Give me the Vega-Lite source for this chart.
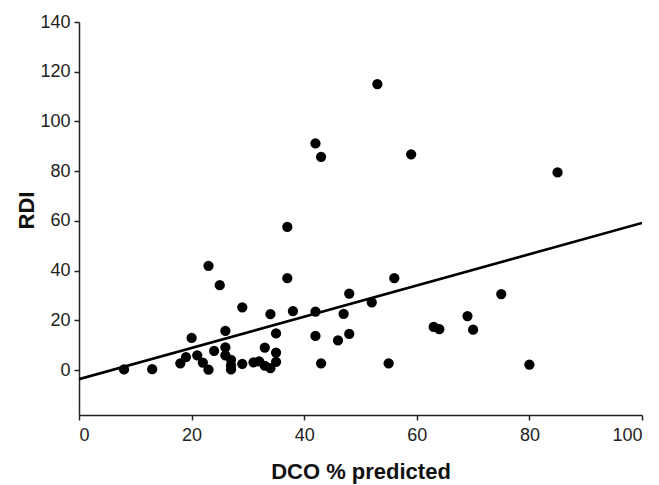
{
  "$schema": "https://vega.github.io/schema/vega-lite/v6.json",
  "width": 563,
  "height": 393,
  "autosize": "none",
  "padding": {"left": 79, "top": 22, "right": 17, "bottom": 70},
  "background": "white",
  "config": {
    "view": {"stroke": null},
    "font": "Liberation Sans",
    "axis": {
      "grid": false,
      "domainColor": "#222222",
      "domainWidth": 1.5,
      "tickColor": "#222222",
      "tickWidth": 1.5,
      "tickSize": 5,
      "labelFont": "Liberation Sans",
      "labelFontSize": 18,
      "labelColor": "#222222",
      "titleFont": "Liberation Sans",
      "titleFontSize": 22,
      "titleFontWeight": "bold",
      "titleColor": "#111111"
    }
  },
  "datasets": {
    "pts": [
      {"dco": 8, "rdi": 0.3}, {"dco": 13, "rdi": 0.4}, {"dco": 18, "rdi": 2.8}, {"dco": 19, "rdi": 5.3},
      {"dco": 20, "rdi": 13}, {"dco": 21, "rdi": 6}, {"dco": 22, "rdi": 3.1}, {"dco": 23, "rdi": 42},
      {"dco": 23, "rdi": 0.2}, {"dco": 24, "rdi": 7.8}, {"dco": 25, "rdi": 34.2}, {"dco": 26, "rdi": 15.8},
      {"dco": 26, "rdi": 9.2}, {"dco": 26, "rdi": 6}, {"dco": 27, "rdi": 4.2}, {"dco": 27, "rdi": 2},
      {"dco": 27, "rdi": 0.3}, {"dco": 29, "rdi": 25.3}, {"dco": 29, "rdi": 2.6}, {"dco": 31, "rdi": 3.2},
      {"dco": 32, "rdi": 3.6}, {"dco": 33, "rdi": 9.1}, {"dco": 33, "rdi": 1.8}, {"dco": 34, "rdi": 0.8},
      {"dco": 34, "rdi": 22.6}, {"dco": 35, "rdi": 14.8}, {"dco": 35, "rdi": 7.1}, {"dco": 35, "rdi": 3.4},
      {"dco": 37, "rdi": 57.6}, {"dco": 37, "rdi": 37}, {"dco": 38, "rdi": 23.8}, {"dco": 42, "rdi": 91.2},
      {"dco": 43, "rdi": 85.8}, {"dco": 42, "rdi": 23.6}, {"dco": 42, "rdi": 13.8}, {"dco": 43, "rdi": 2.8},
      {"dco": 46, "rdi": 12}, {"dco": 47, "rdi": 22.7}, {"dco": 48, "rdi": 30.8}, {"dco": 48, "rdi": 14.6},
      {"dco": 52, "rdi": 27.3}, {"dco": 53, "rdi": 115}, {"dco": 55, "rdi": 2.8}, {"dco": 56, "rdi": 37},
      {"dco": 59, "rdi": 86.8}, {"dco": 63, "rdi": 17.4}, {"dco": 64, "rdi": 16.5}, {"dco": 69, "rdi": 21.8},
      {"dco": 70, "rdi": 16.3}, {"dco": 75, "rdi": 30.6}, {"dco": 80, "rdi": 2.3}, {"dco": 85, "rdi": 79.5}
    ],
    "fit": [
      {"dco": 0, "rdi": -3.6},
      {"dco": 100, "rdi": 59.2}
    ]
  },
  "layer": [
    {
      "data": {"name": "pts"},
      "mark": {"type": "circle", "size": 105, "color": "#000000", "opacity": 1},
      "encoding": {
        "x": {
          "field": "dco", "type": "quantitative",
          "scale": {"domain": [0, 100], "nice": false, "zero": false},
          "axis": {"values": [0, 20, 40, 60, 80, 100], "title": "DCO % predicted", "labelPadding": 6, "titleY": 63, "titleBaseline": "alphabetic"}
        },
        "y": {
          "field": "rdi", "type": "quantitative",
          "scale": {"domain": [-18, 140], "nice": false, "zero": false},
          "axis": {"values": [0, 20, 40, 60, 80, 100, 120, 140], "title": "RDI", "labelPadding": 4, "titleX": -46, "titleY": 188, "titleAngle": 270, "titleAlign": "center", "titleBaseline": "alphabetic"}
        }
      }
    },
    {
      "data": {"name": "fit"},
      "mark": {"type": "line", "color": "#000000", "strokeWidth": 2.6, "clip": true},
      "encoding": {
        "x": {"field": "dco", "type": "quantitative"},
        "y": {"field": "rdi", "type": "quantitative"}
      }
    }
  ]
}
